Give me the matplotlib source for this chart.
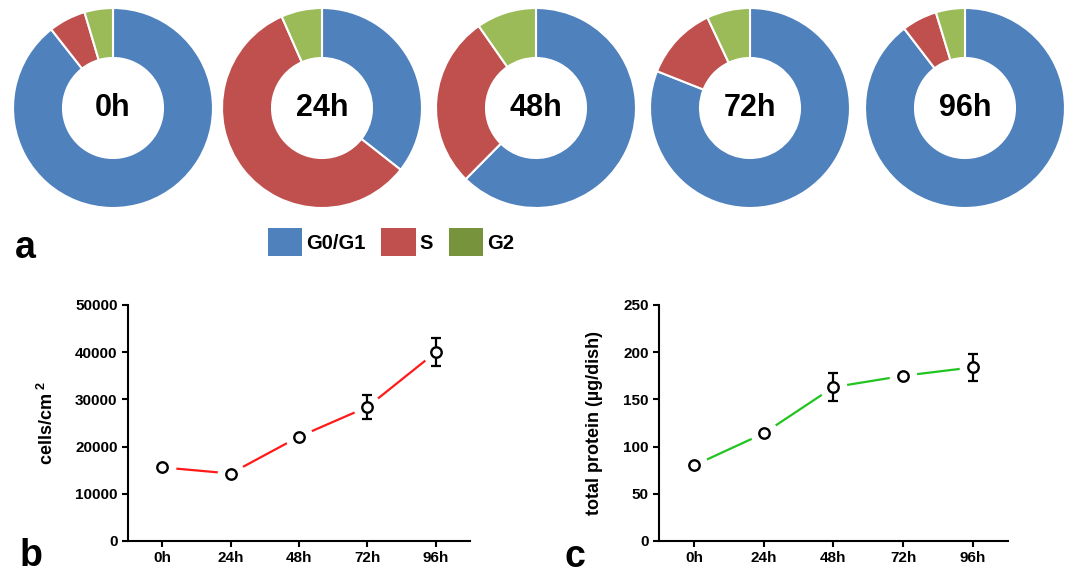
import matplotlib
matplotlib.use("Agg")
import matplotlib.pyplot as plt
from matplotlib.patches import Patch

plt.rcParams["font.family"] = ["Liberation Sans", "DejaVu Sans"]
plt.rcParams["font.weight"] = "bold"
plt.rcParams["mathtext.fontset"] = "custom"
plt.rcParams["mathtext.rm"] = "Liberation Sans:bold"
plt.rcParams["mathtext.bf"] = "Liberation Sans:bold"

# cell-cycle distribution (%) per time point
times = ["0h", "24h", "48h", "72h", "96h"]
g0g1 = [89.4, 35.6, 62.4, 81.0, 89.6]
s_phase = [6.0, 57.8, 27.9, 12.0, 5.7]
g2 = [4.6, 6.6, 9.7, 7.0, 4.7]
phases = ["G0/G1", "S", "G2"]

# panel b: cell density
cells = [15600, 14300, 22100, 28400, 40000]
cells_err = [0, 0, 0, 2500, 3000]

# panel c: total protein
protein = [80, 114, 163, 175, 184]
protein_err = [0, 0, 15, 0, 14]

pie_colors = ["#4f81bd", "#c0504d", "#9bbb59"]
legend_colors = ["#4f81bd", "#c0504d", "#77933c"]

W, H = 1070, 575
fig = plt.figure(figsize=(W / 100, H / 100), dpi=100)

# --- donuts (panel a)
centers_x = [113, 322, 536, 750, 965]
cy, r = 108, 100
for i, cx in enumerate(centers_x):
    ax = fig.add_axes([(cx - r) / W, (H - cy - r) / H, 2 * r / W, 2 * r / H])
    ax.pie([g0g1[i], s_phase[i], g2[i]], colors=pie_colors, startangle=90,
           counterclock=False, radius=1,
           wedgeprops=dict(width=0.5, edgecolor="white", linewidth=1.5))
    ax.set_xlim(-1, 1); ax.set_ylim(-1, 1)
    ax.text(0, 0, times[i], ha="center", va="center", fontsize=22,
            fontweight="bold")
    ax.axis("off")

handles = [Patch(facecolor=c, edgecolor="none") for c in legend_colors]
fig.legend(handles, phases, loc="center", bbox_to_anchor=(391 / W, 1 - 242 / H),
           ncol=3, frameon=False, handlelength=1.7, handleheight=1.75,
           handletextpad=0.2, columnspacing=0.8,
           prop=dict(weight="bold", size=14.5))

fig.text(15 / W, 1 - 258 / H, "a", fontsize=27, fontweight="bold", va="baseline")
fig.text(20 / W, 1 - 566 / H, "b", fontsize=27, fontweight="bold", va="baseline")
fig.text(564 / W, 1 - 567 / H, "c", fontsize=27, fontweight="bold", va="baseline")


def line_panel(rect, y, yerr, color, ymax, step, ylabel, label_x):
    ax = fig.add_axes(rect)
    x = list(range(len(times)))
    ax.plot(x, y, color=color, lw=1.6, zorder=2)
    ax.plot(x, y, "o", ms=20, mfc="white", mec="none", zorder=3)
    ax.errorbar(x, y, yerr=yerr, fmt="none", ecolor="black", elinewidth=1.6,
                capsize=3.5, capthick=1.6, zorder=4)
    ax.plot(x, y, "o", ms=7.5, mfc="white", mec="black", mew=1.7, zorder=5)
    ax.set_xlim(-0.5, 4.5)
    ax.set_ylim(0, ymax)
    ax.set_yticks(range(0, ymax + 1, step))
    ax.set_xticks(x)
    ax.set_xticklabels(times)
    for sp in ["top", "right"]:
        ax.spines[sp].set_visible(False)
    for sp in ["left", "bottom"]:
        ax.spines[sp].set_linewidth(1.5)
    ax.tick_params(width=1.5, length=4, labelsize=11, direction="out")
    for lab in ax.get_xticklabels() + ax.get_yticklabels():
        lab.set_fontweight("bold")
    ax.set_ylabel(ylabel, fontsize=13, fontweight="bold")
    ax.yaxis.set_label_coords(label_x, 0.5)
    return ax


line_panel([128 / W, 34 / H, 342 / W, 236 / H], cells, cells_err, "#ff1a1a",
           50000, 10000, "cells/cm$^{\\ 2}$", -0.208)
line_panel([659 / W, 34 / H, 349 / W, 236 / H], protein, protein_err, "#22c422",
           250, 50, "total protein (\u00b5g/dish)", -0.16)

fig.savefig("out.png", dpi=100)
